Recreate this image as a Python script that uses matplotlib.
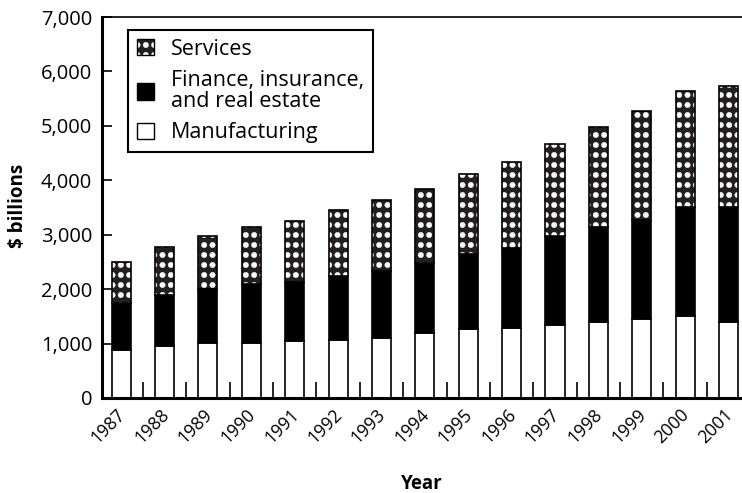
import numpy as np
from matplotlib import pyplot as plt
import matplotlib.hatch as mhatch
from matplotlib.path import Path
from matplotlib.patches import Patch
from matplotlib.ticker import StrMethodFormatter
from matplotlib.transforms import ScaledTranslation

## GDP by industry, stacked bars, $ billions

years = ['1987', '1988', '1989', '1990', '1991', '1992', '1993', '1994',
         '1995', '1996', '1997', '1998', '1999', '2000', '2001']
manufacturing = [880, 955, 1010, 1010, 1050, 1065, 1105, 1195, 1270, 1290, 1340, 1400, 1455, 1505, 1400]
finance = [865, 940, 995, 1085, 1080, 1180, 1230, 1285, 1375, 1465, 1640, 1745, 1815, 2005, 2110]
services = [755, 880, 975, 1050, 1125, 1210, 1305, 1360, 1470, 1585, 1690, 1835, 2005, 2135, 2225]


# '.' hatch -> regular grid of big filled dots instead of the tiny staggered ones
class DotGrid(mhatch.HatchPatternBase):
    def __init__(self, hatch, density):
        n = hatch.count('.')
        self.cols = 12 * n
        self.rows = 10 * n
        circle = Path.unit_circle()
        self.shape_vertices = circle.vertices
        self.shape_codes = circle.codes
        self.num_vertices = self.cols * self.rows * len(self.shape_vertices)

    def set_vertices_and_codes(self, vertices, codes):
        r = 0.027
        k = len(self.shape_vertices)
        i = 0
        for y in (np.arange(self.rows) + 0.5) / self.rows:
            for x in (np.arange(self.cols) + 0.5) / self.cols:
                vertices[i:i + k] = self.shape_vertices * r + [x, y]
                codes[i:i + k] = self.shape_codes
                i += k


mhatch._hatch_types[mhatch._hatch_types.index(mhatch.SmallFilledCircles)] = DotGrid

plt.rcParams['font.family'] = ['Open Sans', 'DejaVu Sans']
plt.rcParams['hatch.linewidth'] = 0.3

dark = '#231f20'
x = np.arange(len(years))
w = 0.44
mfg = np.array(manufacturing)
fin = np.array(finance)
srv = np.array(services)

fig = plt.figure(figsize=(7.42, 4.93), dpi=100)
ax = fig.add_axes([0.1375, 0.1927, 0.8625, 0.7728])

ax.bar(x, mfg, w, color='white', edgecolor='black', linewidth=1.2)
ax.bar(x, fin, w, bottom=mfg, color='black', edgecolor='black', linewidth=1.2)
ax.bar(x, srv, w, bottom=mfg + fin, color=dark, edgecolor='white', linewidth=0, hatch='.')
ax.bar(x, srv, w, bottom=mfg + fin, fill=False, edgecolor='black', linewidth=1.2)

ax.set_xlim(-0.44, 14.31)
ax.set_ylim(0, 7000)
ax.set_yticks(np.arange(0, 7001, 1000))
ax.yaxis.set_major_formatter(StrMethodFormatter('{x:,.0f}'))
ax.tick_params(axis='y', direction='in', length=7, width=1.2, labelsize=14.5, pad=7)

ax.set_xticks(x)
ax.set_xticklabels(years, rotation=45, ha='right', va='center', rotation_mode='anchor')
ax.tick_params(axis='x', which='major', length=0, labelsize=12.8, pad=10)
shift = ScaledTranslation(1.5 / 100, 0, fig.dpi_scale_trans)
for lbl in ax.get_xticklabels():
    lbl.set_transform(lbl.get_transform() + shift)
ax.set_xticks(x[:-1] + 0.5, minor=True)
ax.tick_params(axis='x', which='minor', direction='in', length=11.5, width=1.2)

ax.spines['right'].set_visible(False)
ax.spines['left'].set_linewidth(2.2)
ax.spines['bottom'].set_linewidth(2.2)
ax.spines['top'].set_linewidth(1.2)

ax.set_ylabel('\\$ billions', fontsize=13.5, fontweight='bold')
ax.yaxis.set_label_coords(-0.116, 0.505)
ax.set_xlabel('Year', fontsize=13.5, fontweight='bold', va='top')
ax.xaxis.set_label_coords(0.5, -0.2)

handles = [(Patch(facecolor=dark, edgecolor='white', linewidth=0, hatch='.'),
            Patch(fill=False, edgecolor='black', linewidth=1)),
           Patch(facecolor='black', edgecolor='black', linewidth=1),
           Patch(facecolor='white', edgecolor='black', linewidth=1)]
labels = ['Services', 'Finance, insurance,\nand real estate', 'Manufacturing']
leg = ax.legend(handles, labels, loc='upper left', bbox_to_anchor=(0.041, 0.966),
                borderaxespad=0, fontsize=15.5, frameon=True, fancybox=False,
                edgecolor='black', framealpha=1, borderpad=0.4, labelspacing=0.5,
                handlelength=0.8, handleheight=0.8, handletextpad=0.77)
leg.get_frame().set_linewidth(1.5)
for t in leg.get_texts():
    t.set_linespacing(0.95)

fig.savefig('out.png', dpi=100)
